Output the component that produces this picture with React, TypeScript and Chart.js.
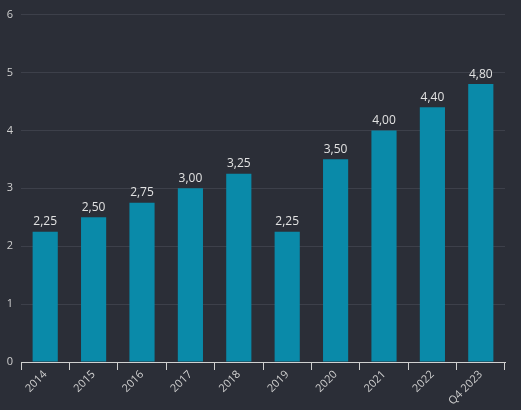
import React, { useEffect, useRef } from "react";
import { Chart, registerables } from "chart.js";

Chart.register(...registerables);

const categories = ["2014", "2015", "2016", "2017", "2018", "2019", "2020", "2021", "2022", "Q4 2023"];
const values = [2.25, 2.5, 2.75, 3.0, 3.25, 2.25, 3.5, 4.0, 4.4, 4.8];
const yTicks = [0, 1, 2, 3, 4, 5, 6];

const BG = "#2b2e37";
const BAR = "#0a8aa9";
const FONT = "'Open Sans', 'Noto Sans', sans-serif";

const valueLabels = {
  id: "valueLabels",
  afterDatasetsDraw(chart: any) {
    const ctx = chart.ctx;
    const meta = chart.getDatasetMeta(0);
    ctx.save();
    ctx.fillStyle = "#e2e2e2";
    ctx.font = `12px ${FONT}`;
    ctx.textAlign = "center";
    ctx.textBaseline = "bottom";
    meta.data.forEach((el: any, i: number) => {
      const v = values[i];
      ctx.fillText(v.toFixed(2).replace(".", ","), el.x, el.y - 4);
    });
    ctx.restore();
  },
};

export default function App() {
  const ref = useRef<HTMLCanvasElement>(null);
  useEffect(() => {
    document.body.style.margin = "0";
    document.body.style.background = BG;
    const chart = new Chart(ref.current!, {
      type: "bar",
      data: {
        labels: categories,
        datasets: [
          {
            data: values,
            backgroundColor: BAR,
            barPercentage: 0.65,
            categoryPercentage: 0.8,
          },
        ],
      },
      options: {
        animation: false,
        responsive: false,
        devicePixelRatio: 1,
        layout: { padding: { top: 9, right: 16, left: 0, bottom: 0 } },
        plugins: { legend: { display: false }, tooltip: { enabled: false } },
        scales: {
          x: {
            afterFit: (axis: any) => {
              axis.height = 48;
            },
            grid: {
              display: true,
              drawOnChartArea: false,
              drawTicks: true,
              tickLength: 8,
              color: "#d0d0d0",
            },
            border: { display: true, color: "#d0d0d0", width: 1 },
            ticks: {
              color: "#cfcfcf",
              font: { family: FONT, size: 11 },
              maxRotation: 45,
              minRotation: 45,
              padding: -2,
            },
          },
          y: {
            min: 0,
            max: 6,
            afterFit: (axis: any) => {
              axis.width = 21;
            },
            afterBuildTicks: (axis: any) => {
              axis.ticks = yTicks.map((v) => ({ value: v }));
            },
            grid: { color: "#3d404a", drawTicks: false },
            border: { display: false },
            ticks: {
              color: "#cfcfcf",
              font: { family: FONT, size: 11 },
              padding: 8,
            },
          },
        },
      },
      plugins: [valueLabels],
    });
    return () => chart.destroy();
  }, []);
  return (
    <div style={{ width: 521, height: 410, background: BG }}>
      <canvas ref={ref} width={521} height={410} style={{ display: "block" }} />
    </div>
  );
}
